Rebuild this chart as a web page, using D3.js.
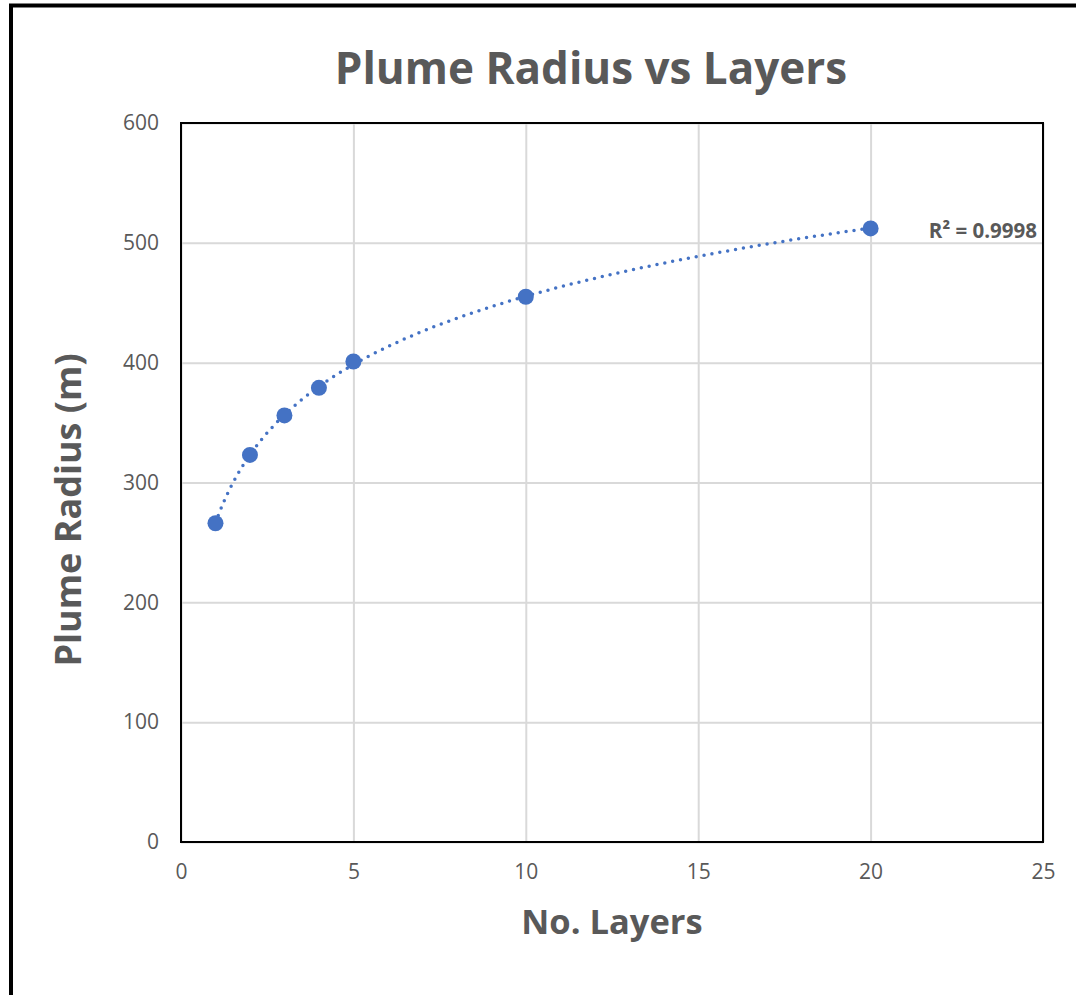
<!DOCTYPE html>
<html>
<head>
<meta charset="utf-8">
<script src="https://cdn.jsdelivr.net/npm/d3@7"></script>
<style>
  body { margin: 0; background: #fff; }
  svg text { font-family: "Open Sans", "Liberation Sans", sans-serif; fill: #595959; }
</style>
</head>
<body>
<div id="chart"></div>
<script>
var layers = [1, 2, 3, 4, 5, 10, 20];
var radius = [266, 323, 356, 379, 401, 455, 512];
var xTicks = [0, 5, 10, 15, 20, 25];
var yTicks = [0, 100, 200, 300, 400, 500, 600];

var w = 1076, h = 995;
var pLeft = 181, pTop = 123, pRight = 1043, pBottom = 842;

var svg = d3.select("#chart")
    .append("svg")
    .attr("width", w)
    .attr("height", h);

// outer frame (left and top edges show)
svg.append("path")
    .attr("d", "M11,995 V5.5 H1076")
    .attr("fill", "none")
    .attr("stroke", "#000")
    .attr("stroke-width", 4);

var xscale = d3.scaleLinear().domain([0, 25]).range([pLeft, pRight]);
var yscale = d3.scaleLinear().domain([0, 600]).range([pBottom, pTop]);

// gridlines
svg.append("g")
    .attr("transform", "translate(0," + pBottom + ")")
    .call(d3.axisBottom(xscale).tickValues(xTicks).tickSize(-(pBottom - pTop)).tickFormat(""))
    .call(function (g) {
        g.select(".domain").remove();
        g.selectAll("line").attr("stroke", "#d9d9d9").attr("stroke-width", 2);
    });
svg.append("g")
    .attr("transform", "translate(" + pLeft + ",0)")
    .call(d3.axisLeft(yscale).tickValues(yTicks).tickSize(-(pRight - pLeft)).tickFormat(""))
    .call(function (g) {
        g.select(".domain").remove();
        g.selectAll("line").attr("stroke", "#d9d9d9").attr("stroke-width", 2);
    });

// tick labels
svg.append("g")
    .attr("transform", "translate(0," + pBottom + ")")
    .call(d3.axisBottom(xscale).tickValues(xTicks).tickSize(0).tickPadding(22))
    .call(function (g) {
        g.select(".domain").remove();
        g.selectAll("text").attr("font-size", 21).attr("font-family", null);
    });
svg.append("g")
    .attr("transform", "translate(" + pLeft + ",0)")
    .call(d3.axisLeft(yscale).tickValues(yTicks).tickSize(0).tickPadding(22))
    .call(function (g) {
        g.select(".domain").remove();
        g.selectAll("text").attr("font-size", 21).attr("font-family", null);
    });

// plot border
svg.append("rect")
    .attr("x", pLeft)
    .attr("y", pTop)
    .attr("width", pRight - pLeft)
    .attr("height", pBottom - pTop)
    .attr("fill", "none")
    .attr("stroke", "#000")
    .attr("stroke-width", 2);

// logarithmic trendline, least squares on ln(x)
var lx = layers.map(function (d) { return Math.log(d); });
var mx = d3.mean(lx), my = d3.mean(radius);
var sxy = d3.sum(lx, function (d, i) { return (d - mx) * (radius[i] - my); });
var sxx = d3.sum(lx, function (d) { return (d - mx) * (d - mx); });
var slope = sxy / sxx, icpt = my - slope * mx;
var trendX = d3.range(1, 20.001, 0.1);

svg.append("path")
    .datum(trendX)
    .attr("fill", "none")
    .attr("stroke", "#4472c4")
    .attr("stroke-width", 3.5)
    .attr("stroke-linecap", "round")
    .attr("stroke-dasharray", "0 8")
    .attr("d", d3.line()
        .x(function (d) { return xscale(d); })
        .y(function (d) { return yscale(slope * Math.log(d) + icpt); }));

// markers
svg.selectAll("circle.pt")
    .data(layers)
    .enter().append("circle")
    .attr("class", "pt")
    .attr("cx", function (d) { return xscale(d); })
    .attr("cy", function (d, i) { return yscale(radius[i]); })
    .attr("r", 8)
    .attr("fill", "#4472c4");

svg.append("text")
    .attr("x", 1037)
    .attr("y", 238)
    .attr("text-anchor", "end")
    .attr("font-size", 20.5)
    .attr("font-weight", "bold")
    .text("R² = 0.9998");

// titles
svg.append("text")
    .attr("x", 591)
    .attr("y", 84)
    .attr("text-anchor", "middle")
    .attr("font-size", 44)
    .attr("font-weight", "bold")
    .text("Plume Radius vs Layers");

svg.append("text")
    .attr("x", 612)
    .attr("y", 934)
    .attr("text-anchor", "middle")
    .attr("font-size", 34.5)
    .attr("font-weight", "bold")
    .text("No. Layers");

svg.append("text")
    .attr("transform", "translate(81,510) rotate(-90)")
    .attr("text-anchor", "middle")
    .attr("font-size", 36)
    .attr("font-weight", "bold")
    .text("Plume Radius (m)");
</script>
</body>
</html>
